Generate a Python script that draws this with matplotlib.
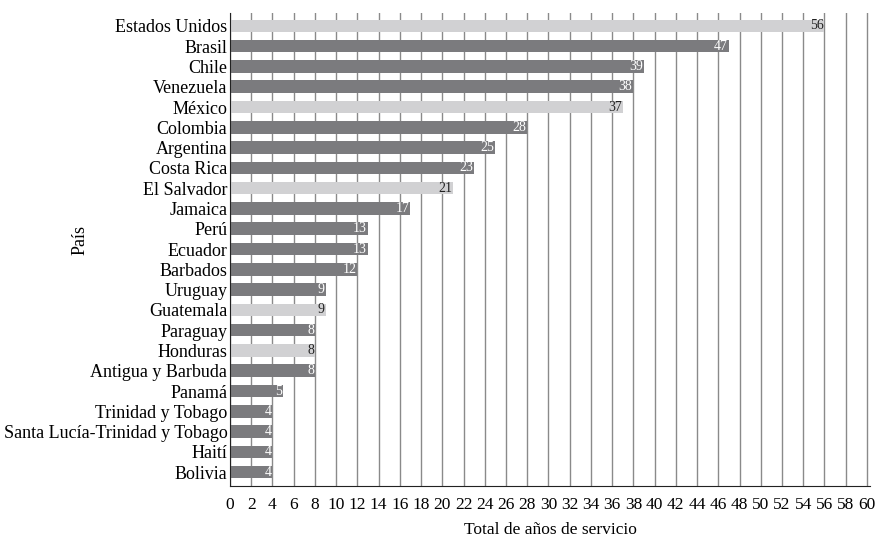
import numpy as np
import matplotlib.pyplot as plt

plt.rcParams['font.family'] = ['Liberation Serif', 'DejaVu Serif']

# data
paises = ['Estados Unidos', 'Brasil', 'Chile', 'Venezuela', 'México', 'Colombia',
          'Argentina', 'Costa Rica', 'El Salvador', 'Jamaica', 'Perú', 'Ecuador',
          'Barbados', 'Uruguay', 'Guatemala', 'Paraguay', 'Honduras',
          'Antigua y Barbuda', 'Panamá', 'Trinidad y Tobago',
          'Santa Lucía-Trinidad y Tobago', 'Haití', 'Bolivia']
anios = [56, 47, 39, 38, 37, 28, 25, 23, 21, 17, 13, 13, 12, 9, 9, 8, 8, 8, 5, 4, 4, 4, 4]
claros = ['Estados Unidos', 'México', 'El Salvador', 'Guatemala', 'Honduras']
xticks = np.arange(0, 61, 2)

fig = plt.figure(figsize=(8.78, 5.39), dpi=100)
ax = fig.add_axes([0.262, 0.098, 0.729, 0.878])

y = np.arange(len(paises))
for i, (p, v) in enumerate(zip(paises, anios)):
    claro = p in claros
    ax.barh(i, v, height=0.62, color='#d1d1d3' if claro else '#7b7b7e', zorder=2)
    ax.text(v - 0.1, i, str(v), ha='right', va='center', fontsize=10,
            color='#222222' if claro else 'white', zorder=3)

ax.set_xlim(0, 60.3)
ax.set_ylim(len(paises) - 0.31, -0.64)
ax.set_xticks(xticks)
ax.set_yticks(y)
ax.set_yticklabels(paises, fontsize=13)
ax.tick_params(axis='x', labelsize=12.5, length=0, pad=8)
ax.tick_params(axis='y', length=0, pad=2)
ax.xaxis.grid(True, color='#8a8a8a', linewidth=1, zorder=1)
ax.set_axisbelow(True)

for s in ['top', 'right']:
    ax.spines[s].set_visible(False)
ax.spines['left'].set_color('#222222')
ax.spines['bottom'].set_color('#222222')

ax.set_xlabel('Total de años de servicio', fontsize=12.5, labelpad=6)
fig.text(80 / 878, 1 - 240 / 539, 'País', rotation=90, fontsize=13,
         ha='center', va='center')

fig.savefig('out.png', dpi=100)
